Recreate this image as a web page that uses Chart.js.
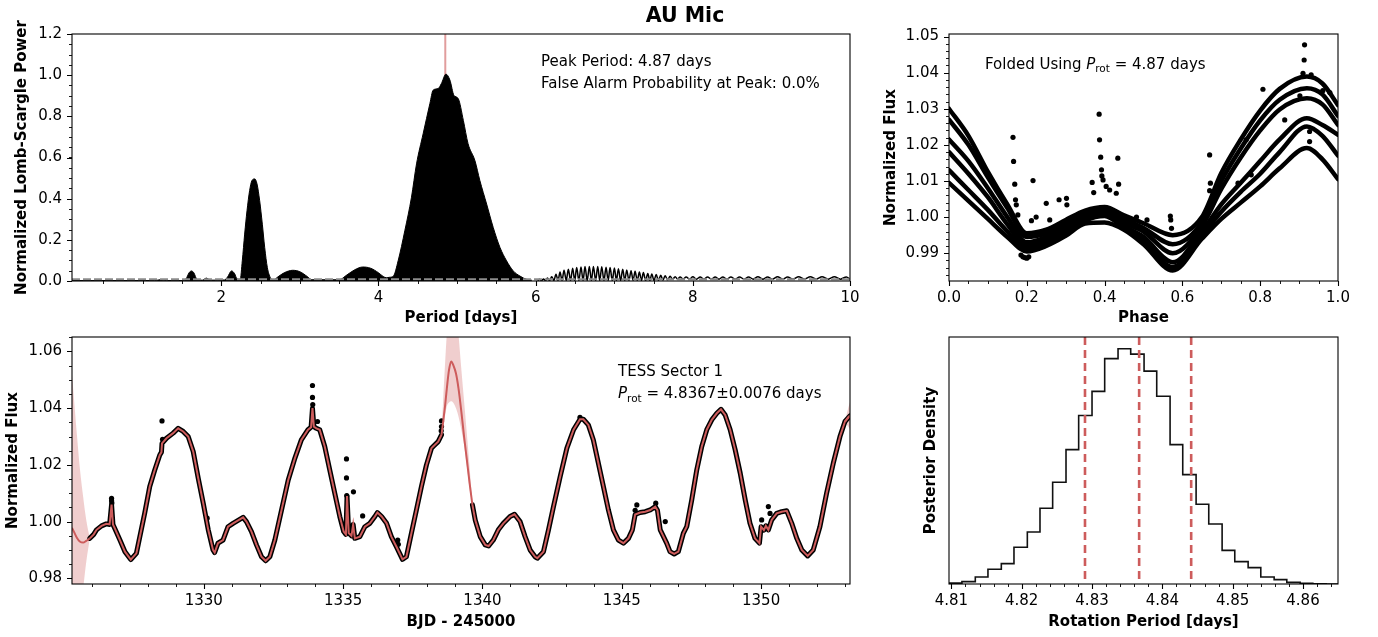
<!DOCTYPE html>
<html>
<head>
<meta charset="utf-8">
<script src="https://cdn.jsdelivr.net/npm/chart.js@4.4.1/dist/chart.umd.min.js"></script>
<style>
html, body { margin: 0; padding: 0; background: #fff; }
#wrap { position: relative; width: 1378px; height: 637px; }
#wrap canvas { position: absolute; left: 0; top: 0; }
#title { position: absolute; left: 585px; top: 3px; width: 200px; text-align: center;
  font: bold 20.5px "DejaVu Sans"; line-height: 24px; color: #000; }
</style>
</head>
<body>
<div id="wrap">
  <canvas id="pgram" width="1378" height="637"></canvas>
  <canvas id="fold" width="1378" height="637"></canvas>
  <canvas id="lc" width="1378" height="637"></canvas>
  <canvas id="post" width="1378" height="637"></canvas>
  <div id="title">AU Mic</div>
</div>
<script>
// ---- periodogram (envelope of the dense oscillation) ----
const pgPeriod = [0.10, 1.15, 1.22, 1.30, 1.50, 1.55, 1.59, 1.62, 1.65, 1.69,
  1.76, 1.81, 1.86, 2.04, 2.08, 2.13, 2.17, 2.20, 2.24, 2.267,
  2.297, 2.327, 2.36, 2.39, 2.425, 2.454, 2.488, 2.522, 2.552, 2.586,
  2.624, 2.66, 2.72, 2.80, 2.91, 3.00, 3.10, 3.15, 3.50, 3.60,
  3.70, 3.80, 3.90, 4.00, 4.06, 4.10, 4.14, 4.19, 4.25, 4.335,
  4.42, 4.484, 4.568, 4.654, 4.695, 4.76, 4.80, 4.858, 4.909, 4.96,
  5.015, 5.08, 5.14, 5.227, 5.29, 5.376, 5.46, 5.546, 5.63, 5.715,
  5.80, 5.885, 5.95];
const pgPower = [0.002, 0.002, 0.006, 0.002, 0.002, 0.010, 0.040, 0.049, 0.040, 0.008,
  0.004, 0.014, 0.004, 0.005, 0.020, 0.049, 0.035, 0.010, 0.008, 0.098,
  0.228, 0.341, 0.439, 0.488, 0.496, 0.472, 0.390, 0.276, 0.163, 0.065,
  0.016, 0.005, 0.020, 0.040, 0.052, 0.045, 0.020, 0.006, 0.006, 0.030,
  0.055, 0.068, 0.062, 0.040, 0.022, 0.016, 0.018, 0.024, 0.098, 0.244,
  0.407, 0.569, 0.715, 0.862, 0.927, 0.935, 0.959, 1.005, 0.976, 0.902,
  0.886, 0.780, 0.667, 0.585, 0.488, 0.374, 0.260, 0.163, 0.098, 0.049,
  0.024, 0.008, 0.004];
// long-period side lobes, peaks and troughs
const wigPeakP = [6.05, 6.10, 6.15, 6.204, 6.259, 6.31, 6.361, 6.416, 6.471, 6.522,
  6.577, 6.628, 6.683, 6.735, 6.79, 6.841, 6.896, 6.947, 7.002, 7.053,
  7.108, 7.159, 7.214, 7.265, 7.32, 7.371, 7.427, 7.478, 7.533, 7.592,
  7.647, 7.711, 7.775, 7.838, 7.915, 8.0, 8.093, 8.187, 8.284, 8.382,
  8.484, 8.594, 8.709, 8.828, 8.951, 9.078, 9.206, 9.346, 9.495, 9.644,
  9.801, 9.954];
const wigPeakH = [0.008, 0.010, 0.014, 0.021, 0.033, 0.044, 0.052, 0.057, 0.062, 0.065,
  0.068, 0.070, 0.071, 0.071, 0.070, 0.069, 0.067, 0.065, 0.063, 0.060,
  0.057, 0.054, 0.050, 0.047, 0.044, 0.041, 0.037, 0.034, 0.031, 0.028,
  0.025, 0.023, 0.021, 0.020, 0.020, 0.021, 0.020, 0.020, 0.020, 0.020,
  0.020, 0.020, 0.020, 0.021, 0.020, 0.021, 0.020, 0.021, 0.021, 0.021,
  0.021, 0.020];
const wigTroughP = [6.025, 6.075, 6.125, 6.177, 6.232, 6.285, 6.336, 6.389, 6.444, 6.497,
  6.55, 6.603, 6.656, 6.709, 6.763, 6.816, 6.869, 6.922, 6.975, 7.028,
  7.081, 7.134, 7.187, 7.24, 7.293, 7.346, 7.399, 7.453, 7.506, 7.563,
  7.62, 7.679, 7.743, 7.807, 7.877, 7.958, 8.047, 8.14, 8.236, 8.333,
  8.433, 8.539, 8.652, 8.769, 8.89, 9.015, 9.142, 9.276, 9.42, 9.57,
  9.723, 9.878, 10.0];
const wigTroughH = [0.002, 0.002, 0.002, 0.002, 0.002, 0.002, 0.002, 0.002, 0.002, 0.002,
  0.002, 0.002, 0.002, 0.002, 0.002, 0.002, 0.002, 0.002, 0.002, 0.002,
  0.002, 0.002, 0.002, 0.002, 0.002, 0.002, 0.002, 0.002, 0.002, 0.003,
  0.004, 0.006, 0.008, 0.009, 0.009, 0.009, 0.009, 0.009, 0.009, 0.009,
  0.009, 0.009, 0.009, 0.009, 0.009, 0.009, 0.009, 0.009, 0.009, 0.009,
  0.009, 0.009, 0.009];
const peakPeriod = 4.85;
const falseAlarmLevel = 0.008;
const pgXTicks = [2, 4, 6, 8, 10];
const pgYTicks = [0, 0.2, 0.4, 0.6, 0.8, 1.0, 1.2];

// ---- folded light curve: one strand per rotation ----
const foldPhase = [0, 0.05, 0.1, 0.15, 0.2, 0.25, 0.3, 0.35, 0.4, 0.45,
  0.5, 0.575, 0.65, 0.7, 0.75, 0.8, 0.85, 0.92, 0.96, 1.0];
const strand1 = [1.0300, 1.0225, 1.0125, 1.0035, 0.9955, 0.9965, 0.9992, 1.0018, 1.0028, 1.0005,
  0.9983, 0.9950, 1.0000, 1.0122, 1.0215, 1.0295, 1.0355, 1.0389, 1.0370, 1.0310];
const strand2 = [1.0270, 1.0200, 1.0110, 1.0025, 0.9945, 0.9955, 0.9982, 1.0010, 1.0022, 0.9995,
  0.9970, 0.9925, 0.9985, 1.0100, 1.0190, 1.0268, 1.0325, 1.0357, 1.0340, 1.0280];
const strand3 = [1.0215, 1.0155, 1.0080, 1.0000, 0.9930, 0.9945, 0.9972, 1.0002, 1.0015, 0.9985,
  0.9960, 0.9900, 0.9975, 1.0078, 1.0165, 1.0240, 1.0298, 1.0329, 1.0312, 1.0255];
const strand4 = [1.0180, 1.0120, 1.0055, 0.9980, 0.9920, 0.9935, 0.9962, 0.9995, 1.0010, 0.9975,
  0.9945, 0.9875, 0.9960, 1.0035, 1.0095, 1.0155, 1.0215, 1.0274, 1.0255, 1.0228];
const strand5 = [1.0130, 1.0075, 1.0020, 0.9960, 0.9910, 0.9928, 0.9955, 0.9990, 1.0003, 0.9970,
  0.9935, 0.9862, 0.9950, 1.0015, 1.0070, 1.0120, 1.0180, 1.0251, 1.0225, 1.0170];
const strand6 = [1.0095, 1.0045, 0.9995, 0.9945, 0.9905, 0.9920, 0.9948, 0.9982, 0.9985, 0.9965,
  0.9925, 0.9852, 0.9940, 0.9995, 1.0040, 1.0085, 1.0135, 1.0191, 1.0160, 1.0105];
const flarePhase = [0.1645, 0.166, 0.169, 0.171, 0.173, 0.177, 0.216, 0.212, 0.224, 0.250,
  0.259, 0.283, 0.302, 0.303, 0.368, 0.372, 0.386, 0.387, 0.390, 0.392,
  0.393, 0.396, 0.404, 0.413, 0.434, 0.436, 0.430, 0.482, 0.509, 0.569,
  0.570, 0.572, 0.670, 0.672, 0.670, 0.807, 0.914, 0.913, 0.910, 0.931,
  0.961, 0.979, 0.927, 0.927, 0.777, 0.743, 0.764, 0.863, 0.902, 0.185,
  0.190, 0.195, 0.200, 0.205];
const flareFlux = [1.0221, 1.0154, 1.0091, 1.0048, 1.0034, 1.0006, 1.0101, 0.9990, 1.0000, 1.0038,
  0.9992, 1.0048, 1.0052, 1.0034, 1.0096, 1.0068, 1.0285, 1.0214, 1.0166, 1.0131,
  1.0114, 1.0103, 1.0085, 1.0075, 1.0163, 1.0091, 1.0066, 1.0000, 0.9992, 1.0003,
  0.9992, 0.9969, 1.0172, 1.0094, 1.0073, 1.0354, 1.0477, 1.0435, 1.0398, 1.0394,
  1.0350, 1.0345, 1.0237, 1.0209, 1.0117, 1.0094, 1.0214, 1.0269, 1.0336, 0.9895,
  0.9890, 0.9888, 0.9886, 0.9890];
const foldXTicks = [0, 0.2, 0.4, 0.6, 0.8, 1.0];
const foldYTicks = [0.99, 1.00, 1.01, 1.02, 1.03, 1.04, 1.05];

// ---- TESS light curve (null = data gap) ----
const lcTime = [1325.91, 1326.05, 1326.15, 1326.33, 1326.50, 1326.62, 1326.69, 1326.74, 1326.81, 1326.99,
  1327.17, 1327.38, 1327.58, 1327.70, 1327.88, 1328.06, 1328.24, 1328.42, 1328.48, 1328.50,
  1328.66, 1328.90, 1329.08, 1329.26, 1329.44, 1329.62, 1329.80, 1329.98, 1330.16, 1330.33,
  1330.39, 1330.51, 1330.69, 1330.87, 1331.05, 1331.29, 1331.41, 1331.53, 1331.71, 1331.89,
  1332.07, 1332.22, 1332.37, 1332.55, 1332.79, 1333.03, 1333.27, 1333.50, 1333.74, 1333.85,
  1333.90, 1333.95, 1334.04, 1334.16, 1334.34, 1334.52, 1334.70, 1334.88, 1335.02, 1335.10,
  1335.14, 1335.20, 1335.30, 1335.36, 1335.42, 1335.60, 1335.78, 1335.96, 1336.14, 1336.23,
  1336.38, 1336.56, 1336.73, 1336.91, 1337.13, 1337.27, 1337.45, 1337.63, 1337.81, 1337.99,
  1338.17, 1338.23, 1338.41, 1338.53, 1339.00, 1339.64, 1339.74, 1339.92, 1340.10, 1340.22,
  1340.39, 1340.57, 1340.75, 1340.99, 1341.15, 1341.35, 1341.53, 1341.71, 1341.89, 1341.97,
  1342.19, 1342.37, 1342.55, 1342.79, 1343.03, 1343.27, 1343.50, 1343.62, 1343.80, 1343.98,
  1344.16, 1344.34, 1344.52, 1344.70, 1344.88, 1345.06, 1345.24, 1345.38, 1345.48, 1345.66,
  1345.84, 1346.02, 1346.20, 1346.28, 1346.38, 1346.61, 1346.73, 1346.88, 1347.03, 1347.21,
  1347.33, 1347.51, 1347.69, 1347.87, 1348.05, 1348.23, 1348.41, 1348.56, 1348.71, 1348.89,
  1349.07, 1349.25, 1349.43, 1349.60, 1349.78, 1349.94, 1350.00, 1350.10, 1350.17, 1350.26,
  1350.38, 1350.56, 1350.74, 1350.92, 1351.10, 1351.28, 1351.46, 1351.67, 1351.87, 1352.11,
  1352.35, 1352.59, 1352.83, 1353.01, 1353.19];
const lcFlux = [0.9941, 0.9955, 0.9971, 0.9985, 0.9992, 0.9990, 1.0060, 0.9990, 0.9975, 0.9935,
  0.9894, 0.9866, 0.9888, 0.9945, 1.0030, 1.0124, 1.0182, 1.0235, 1.0245, 1.0276,
  1.0294, 1.0312, 1.0329, 1.0318, 1.0300, 1.0247, 1.0153, 1.0065, 0.9971, 0.9900,
  0.9891, 0.9924, 0.9935, 0.9982, 0.9994, 1.0008, 1.0015, 1.0000, 0.9965, 0.9918,
  0.9876, 0.9862, 0.9876, 0.9935, 1.0041, 1.0147, 1.0224, 1.0288, 1.0324, 1.0333,
  1.0400, 1.0335, 1.0329, 1.0324, 1.0265, 1.0182, 1.0100, 1.0018, 0.9965, 0.9955,
  1.0090, 0.9960, 0.9950, 0.9990, 0.9941, 0.9947, 0.9982, 0.9994, 1.0018, 1.0032,
  1.0018, 0.9994, 0.9947, 0.9912, 0.9867, 0.9876, 0.9959, 1.0041, 1.0124, 1.0200,
  1.0259, 1.0265, 1.0282, 1.0306, null, 1.0059, 1.0006, 0.9947, 0.9918, 0.9914,
  0.9935, 0.9971, 0.9994, 1.0018, 1.0026, 1.0000, 0.9947, 0.9900, 0.9876, 0.9871,
  0.9894, 0.9971, 1.0053, 1.0159, 1.0259, 1.0324, 1.0361, 1.0361, 1.0341, 1.0288,
  1.0206, 1.0124, 1.0041, 0.9971, 0.9935, 0.9924, 0.9941, 0.9971, 1.0025, 1.0032,
  1.0035, 1.0041, 1.0053, 1.0040, 0.9971, 0.9924, 0.9894, 0.9886, 0.9894, 0.9959,
  0.9982, 1.0076, 1.0182, 1.0265, 1.0324, 1.0359, 1.0382, 1.0396, 1.0376, 1.0324,
  1.0253, 1.0171, 1.0076, 0.9994, 0.9941, 0.9924, 0.9982, 0.9970, 0.9985, 0.9971,
  1.0006, 1.0029, 1.0035, 1.0038, 0.9994, 0.9941, 0.9900, 0.9879, 0.9900, 0.9982,
  1.0100, 1.0206, 1.0300, 1.0353, 1.0373];
const lcOutTime = [1326.69, 1326.69, 1326.70, 1328.50, 1328.52, 1330.12, 1333.90, 1333.90, 1333.91, 1334.08,
  1335.12, 1335.12, 1335.13, 1335.37, 1335.70, 1336.96, 1336.98, 1338.53, 1338.53, 1338.52,
  1345.54, 1345.48, 1346.22, 1346.56, 1350.02, 1350.26, 1350.32, 1343.50];
const lcOutFlux = [1.0082, 1.0074, 1.0066, 1.0355, 1.0290, 1.0012, 1.0480, 1.0438, 1.0413, 1.0353,
  1.0221, 1.0154, 1.0092, 1.0105, 1.0020, 0.9935, 0.9920, 1.0355, 1.0335, 1.0320,
  1.0059, 1.0040, 1.0065, 1.0000, 1.0006, 1.0053, 1.0029, 1.0368];
// GP prediction where there is no data (null separates the stretches)
const gpTime = [1325.27, 1325.35, 1325.45, 1325.55, 1325.67, 1325.78, 1325.91, null,
  1338.53, 1338.60, 1338.66, 1338.72, 1338.80, 1338.88, 1338.96, 1339.05, 1339.14, 1339.24,
  1339.34, 1339.44, 1339.54, 1339.64, null, 1353.01, 1353.10, 1353.20];
const gpFlux = [0.9978, 0.9962, 0.9942, 0.9930, 0.9926, 0.9932, 0.9941, null,
  1.0306, 1.0360, 1.0410, 1.0468, 1.0535, 1.0565, 1.0550, 1.0522, 1.0470, 1.0390,
  1.0300, 1.0218, 1.0135, 1.0059, null, 1.0353, 1.0365, 1.0375];
const gpHi = [1.0518, 1.0422, 1.0302, 1.0190, 1.0088, 1.0007, 0.9941, null,
  1.0306, 1.0450, 1.0560, 1.0660, 1.0740, 1.0790, 1.0780, 1.0740, 1.0660, 1.0540,
  1.0425, 1.0310, 1.0190, 1.0059, null, 1.0353, 1.0390, 1.0425];
const gpLo = [0.9438, 0.9502, 0.9582, 0.9670, 0.9764, 0.9857, 0.9941, null,
  1.0306, 1.0335, 1.0375, 1.0406, 1.0420, 1.0424, 1.0418, 1.0400, 1.0371, 1.0325,
  1.0270, 1.0195, 1.0115, 1.0059, null, 1.0353, 1.0340, 1.0325];
const lcXTicks = [1330, 1335, 1340, 1345, 1350];
const lcYTicks = [0.98, 1.00, 1.02, 1.04, 1.06];

// ---- posterior of the rotation period ----
const binEdges = [4.8097, 4.8115, 4.8134, 4.8152, 4.8171, 4.8189, 4.8208, 4.8226, 4.8244, 4.8263,
  4.8281, 4.8300, 4.8318, 4.8337, 4.8355, 4.8374, 4.8392, 4.8411, 4.8429, 4.8448,
  4.8466, 4.8485, 4.8503, 4.8522, 4.8540, 4.8559, 4.8577, 4.8596, 4.8614, 4.8633, 4.8651];
const density = [0.15, 0.20, 0.52, 1.57, 3.28, 4.55, 8.2, 11.6, 16.9, 22.7,
  30.0, 37.6, 43.0, 50.3, 52.5, 51.3, 47.5, 41.9, 31.1, 24.4,
  17.8, 13.4, 7.5, 5.0, 3.65, 1.57, 0.97, 0.37, 0.15, 0.07];
const protQuantiles = [4.8290, 4.8367, 4.8441];
const postXTicks = [4.81, 4.82, 4.83, 4.84, 4.85, 4.86];

const RED = '#cd5c5c';
const PINK = 'rgba(205, 92, 92, 0.3)';
Chart.defaults.font.family = '"DejaVu Sans"';
Chart.defaults.font.size = 15;
Chart.defaults.color = '#000';

const pts = (xs, ys) => xs.map((x, i) => ({x: x, y: ys[i]}));

// box round the axes plus matplotlib style outward ticks
const frame = {
  id: 'frame',
  afterDraw(chart, args, o) {
    const {ctx, chartArea: a} = chart;
    const sx = chart.scales.x, sy = chart.scales.y;
    ctx.save();
    ctx.strokeStyle = '#000';
    const mark = (scale, vals, len, lw) => {
      ctx.lineWidth = lw;
      ctx.beginPath();
      vals.forEach(v => {
        if (v < scale.min - 1e-9 || v > scale.max + 1e-9) return;
        const p = Math.round(scale.getPixelForValue(v)) + 0.5;
        if (scale.isHorizontal()) { ctx.moveTo(p, a.bottom); ctx.lineTo(p, a.bottom + len); }
        else { ctx.moveTo(a.left, p); ctx.lineTo(a.left - len, p); }
      });
      ctx.stroke();
    };
    const minors = (scale, step) => {
      const out = [];
      for (let k = Math.ceil(scale.min / step - 1e-6); k * step <= scale.max + 1e-9; k++) out.push(k * step);
      return out;
    };
    mark(sx, minors(sx, o.xMinor), 3, 0.9);
    mark(sx, sx.ticks.map(t => t.value), 5, 1.1);
    if (o.yMinor) {
      mark(sy, minors(sy, o.yMinor), 3, 0.9);
      mark(sy, sy.ticks.map(t => t.value), 5, 1.1);
    }
    ctx.lineWidth = 1.1;
    ctx.strokeRect(a.left, a.top, a.width, a.height);
    ctx.restore();
  }
};

// axvline / axhline
const refLines = {
  id: 'refLines',
  draw(chart, list) {
    const {ctx, chartArea: a} = chart;
    ctx.save();
    ctx.beginPath(); ctx.rect(a.left, a.top, a.width, a.height); ctx.clip();
    (list || []).forEach(l => {
      ctx.strokeStyle = l.color; ctx.lineWidth = l.width; ctx.setLineDash(l.dash || []);
      ctx.beginPath();
      if (l.axis === 'x') {
        const p = chart.scales.x.getPixelForValue(l.value);
        ctx.moveTo(p, a.top); ctx.lineTo(p, a.bottom);
      } else {
        const p = chart.scales.y.getPixelForValue(l.value);
        ctx.moveTo(a.left, p); ctx.lineTo(a.right, p);
      }
      ctx.stroke();
    });
    ctx.restore();
  },
  beforeDatasetsDraw(chart, args, o) { this.draw(chart, o.under); },
  afterDatasetsDraw(chart, args, o) { this.draw(chart, o.over); }
};

// annotation text, runs allow italic P with a subscript
const notes = {
  id: 'notes',
  afterDraw(chart, args, o) {
    const ctx = chart.ctx;
    ctx.save();
    ctx.fillStyle = '#000';
    ctx.textBaseline = 'alphabetic';
    (o.items || []).forEach(it => {
      let x = it.x;
      it.runs.forEach(r => {
        ctx.font = r.font || '15px "DejaVu Sans"';
        ctx.fillText(r.t, x, it.y + (r.dy || 0));
        x += ctx.measureText(r.t).width;
      });
    });
    ctx.restore();
  }
};
const prot = tail => [
  {t: 'P', font: 'italic 15px "DejaVu Sans"'},
  {t: 'rot', font: '10.5px "DejaVu Sans"', dy: 3.5},
  {t: ' = ' + tail}
];

function panel(o) {
  return {
    responsive: false,
    animation: false,
    events: [],
    layout: {padding: o.pad},
    plugins: {
      legend: {display: false},
      tooltip: {enabled: false},
      frame: o.frame,
      refLines: o.ref || {},
      notes: {items: o.notes || []}
    },
    scales: {
      x: {
        type: 'linear', min: o.x.min, max: o.x.max,
        afterBuildTicks: s => { s.ticks = o.x.ticks.map(v => ({value: v})); },
        afterFit: s => { s.height = 48; },
        grid: {display: false, drawTicks: false},
        border: {display: false},
        ticks: {autoSkip: false, maxRotation: 0, padding: 8, callback: o.x.fmt},
        title: {display: true, text: o.x.title, font: {size: 15, weight: 'bold'},
          padding: {top: 0, bottom: o.x.tpad}}
      },
      y: {
        type: 'linear', min: o.y.min, max: o.y.max,
        afterBuildTicks: s => { s.ticks = (o.y.ticks || []).map(v => ({value: v})); },
        afterFit: s => { s.width = o.y.width; },
        grid: {display: false, drawTicks: false},
        border: {display: false},
        ticks: {display: !!o.y.ticks, autoSkip: false, padding: 10, callback: o.y.fmt},
        title: {display: true, text: o.y.title, font: {size: 15, weight: 'bold'},
          padding: {top: o.y.tpad, bottom: 0}}
      }
    }
  };
}

// top left: periodogram
const wiggle = pts(wigPeakP, wigPeakH).concat(pts(wigTroughP, wigTroughH)).sort((a, b) => a.x - b.x);
new Chart(document.getElementById('pgram'), {
  type: 'line',
  data: {datasets: [
    {data: pts(pgPeriod, pgPower), borderColor: '#000', backgroundColor: '#000', fill: 'origin',
      borderWidth: 1, pointRadius: 0, cubicInterpolationMode: 'monotone'},
    {data: wiggle, borderColor: '#000', borderWidth: 1.5, fill: false, pointRadius: 0,
      cubicInterpolationMode: 'monotone'}
  ]},
  options: panel({
    pad: {left: 12, right: 1378 - 850, top: 34, bottom: 637 - 281 - 48},
    frame: {xMinor: 0.5, yMinor: 0.05},
    ref: {
      under: [{axis: 'x', value: peakPeriod, color: 'rgba(205, 92, 92, 0.6)', width: 2}],
      over: [{axis: 'y', value: falseAlarmLevel, color: '#8c8c8c', width: 2, dash: [8, 3]}]
    },
    notes: [
      {x: 541, y: 65.5, runs: [{t: 'Peak Period: 4.87 days'}]},
      {x: 541, y: 88.2, runs: [{t: 'False Alarm Probability at Peak: 0.0%'}]}
    ],
    x: {min: 0.1, max: 10, ticks: pgXTicks, fmt: v => String(v), title: 'Period [days]', tpad: 2},
    y: {min: 0, max: 1.2, ticks: pgYTicks, fmt: v => v.toFixed(1), title: 'Normalized Lomb-Scargle Power',
      width: 60, tpad: 1.5}
  }),
  plugins: [frame, refLines, notes]
});

// top right: folded light curve
const strands = [strand1, strand2, strand3, strand4, strand5, strand6];
new Chart(document.getElementById('fold'), {
  type: 'line',
  data: {datasets: strands.map(s => ({
    data: pts(foldPhase, s), borderColor: '#000', borderWidth: 4.5, pointRadius: 0, fill: false,
    cubicInterpolationMode: 'monotone', borderJoinStyle: 'round', borderCapStyle: 'round'
  })).concat([
    {type: 'scatter', data: pts(flarePhase, flareFlux), backgroundColor: '#000', borderWidth: 0,
      pointRadius: 2.6, showLine: false}
  ])},
  options: panel({
    pad: {left: 879, right: 1378 - 1338, top: 34, bottom: 637 - 281 - 48},
    frame: {xMinor: 0.05, yMinor: 0.002},
    notes: [{x: 985, y: 68.8, runs: [{t: 'Folded Using '}].concat(prot('4.87 days'))}],
    x: {min: 0, max: 1, ticks: foldXTicks, fmt: v => v.toFixed(1), title: 'Phase', tpad: 2},
    y: {min: 0.9823, max: 1.0507, ticks: foldYTicks, fmt: v => v.toFixed(2), title: 'Normalized Flux',
      width: 70, tpad: 3}
  }),
  plugins: [frame, refLines, notes]
});

// bottom left: light curve with GP model
const gpSets = [];
let seg = [];
gpTime.concat([null]).forEach((t, i) => {
  if (t !== null) { seg.push(i); return; }
  const pick = arr => seg.map(j => ({x: gpTime[j], y: arr[j]}));
  gpSets.push(
    {data: pick(gpHi), borderWidth: 0, pointRadius: 0, fill: '+1', backgroundColor: PINK,
      cubicInterpolationMode: 'monotone', order: 5},
    {data: pick(gpLo), borderWidth: 0, pointRadius: 0, fill: false,
      cubicInterpolationMode: 'monotone', order: 5},
    {data: pick(gpFlux), borderColor: RED, borderWidth: 2, pointRadius: 0, fill: false,
      cubicInterpolationMode: 'monotone', order: 1}
  );
  seg = [];
});
new Chart(document.getElementById('lc'), {
  type: 'line',
  data: {datasets: gpSets.concat([
    {data: pts(lcTime, lcFlux), borderColor: RED, borderWidth: 2, pointRadius: 0, fill: false, order: 1},
    {data: pts(lcTime, lcFlux), borderColor: '#000', borderWidth: 5, pointRadius: 0, fill: false,
      borderJoinStyle: 'round', borderCapStyle: 'round', order: 3},
    {type: 'scatter', data: pts(lcOutTime, lcOutFlux), backgroundColor: '#000', borderWidth: 0,
      pointRadius: 2.6, showLine: false, order: 2}
  ])},
  options: panel({
    pad: {left: 2, right: 1378 - 850, top: 337, bottom: 637 - 584 - 48},
    frame: {xMinor: 1, yMinor: 0.005},
    notes: [
      {x: 618, y: 375.5, runs: [{t: 'TESS Sector 1'}]},
      {x: 618, y: 398.2, runs: prot('4.8367\u00b10.0076 days')}
    ],
    x: {min: 1325.27, max: 1353.19, ticks: lcXTicks, fmt: v => String(v), title: 'BJD - 245000', tpad: 1},
    y: {min: 0.978, max: 1.0651, ticks: lcYTicks, fmt: v => v.toFixed(2), title: 'Normalized Flux',
      width: 70, tpad: 2}
  }),
  plugins: [frame, refLines, notes]
});

// bottom right: posterior histogram
const stepPts = [{x: binEdges[0], y: 0}].concat(
  density.map((d, i) => ({x: binEdges[i], y: d})),
  [{x: binEdges[binEdges.length - 1], y: 0}]);
new Chart(document.getElementById('post'), {
  type: 'line',
  data: {datasets: [
    {data: stepPts, stepped: 'after', borderColor: '#111', borderWidth: 1.6, pointRadius: 0, fill: false}
  ]},
  options: panel({
    pad: {left: 919, right: 1378 - 1338, top: 337, bottom: 637 - 584 - 48},
    frame: {xMinor: 0.002, yMinor: null},
    ref: {over: protQuantiles.map(q => ({axis: 'x', value: q, color: RED, width: 2.6, dash: [8, 5]}))},
    x: {min: 4.80966, max: 4.86498, ticks: postXTicks, fmt: v => v.toFixed(2),
      title: 'Rotation Period [days]', tpad: 1},
    y: {min: 0, max: 55.125, ticks: null, title: 'Posterior Density', width: 30, tpad: 3}
  }),
  plugins: [frame, refLines, notes]
});
</script>
</body>
</html>
